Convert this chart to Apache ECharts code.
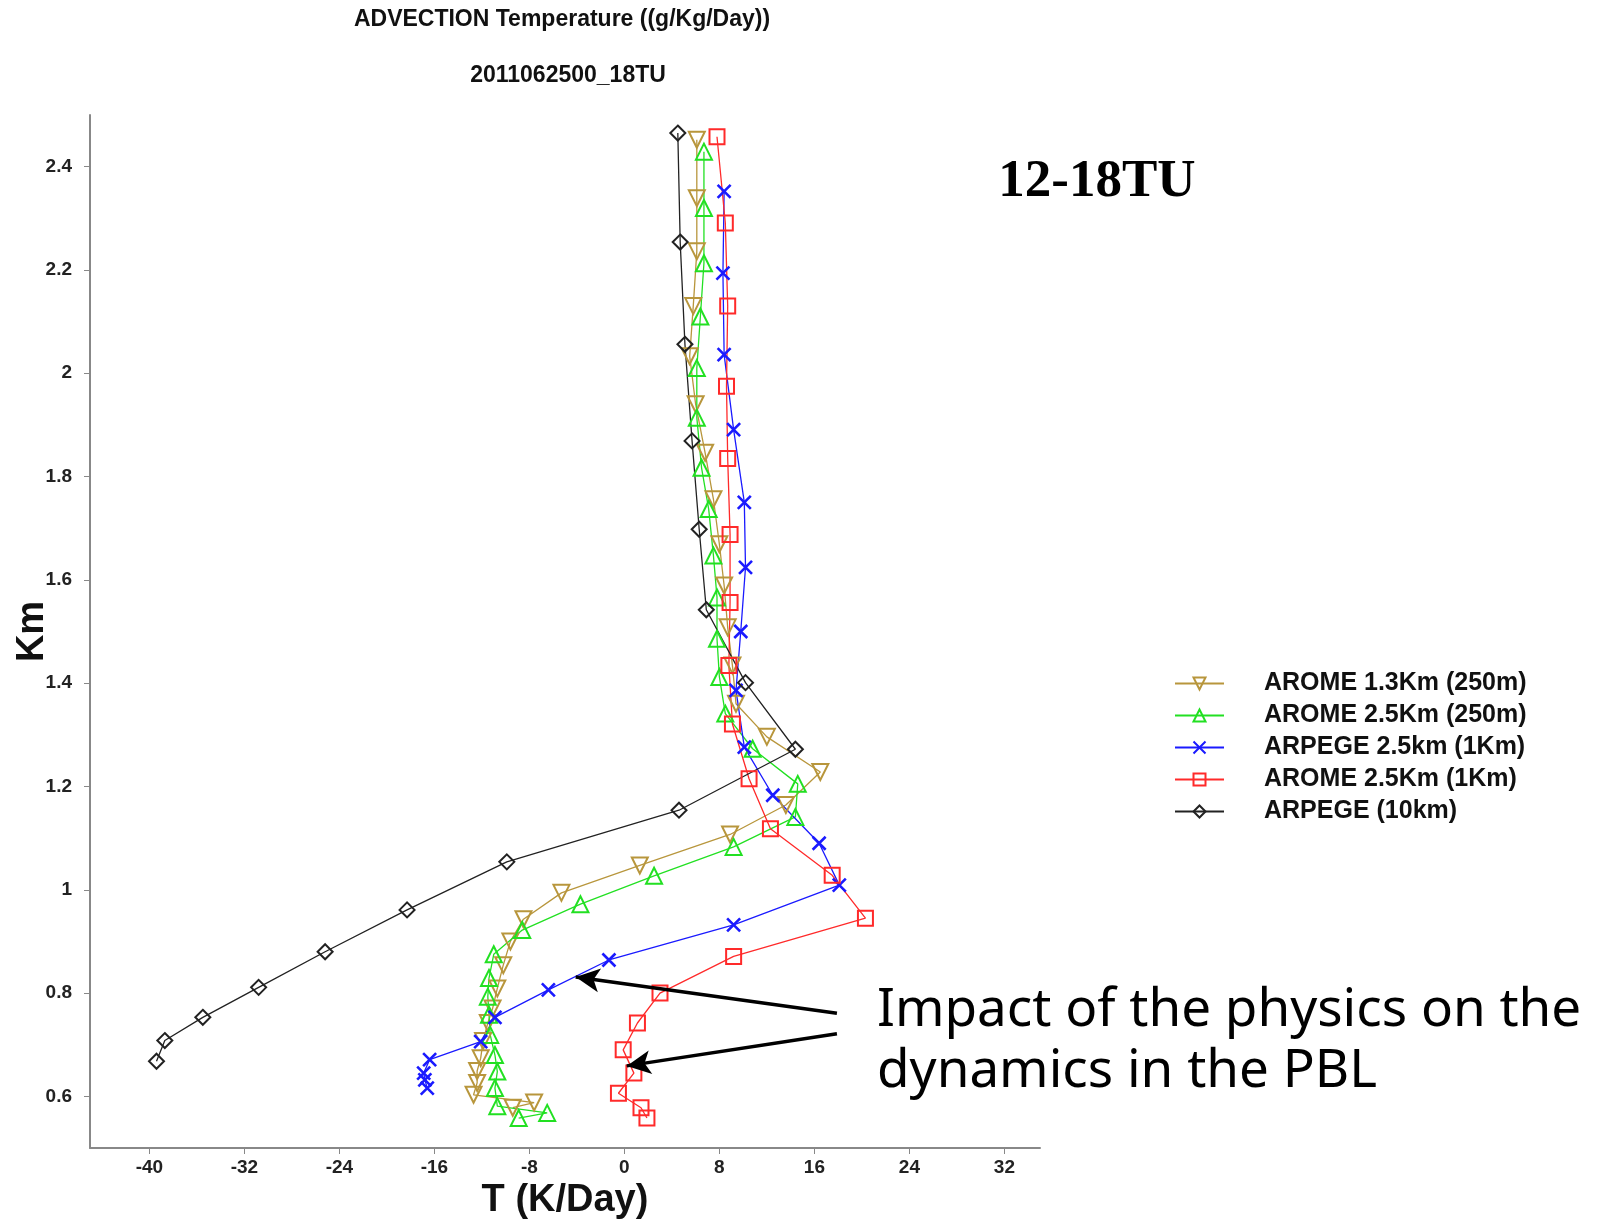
<!DOCTYPE html>
<html>
<head>
<meta charset="utf-8">
<title>ADVECTION Temperature</title>
<script src="https://cdn.jsdelivr.net/npm/echarts@6.0.0/dist/echarts.min.js"></script>
<style>
  html, body { margin: 0; padding: 0; background: #fff; }
  #chart { width: 1603px; height: 1221px; }
</style>
</head>
<body>
<div id="chart"></div>
<script>
// tick labels
var xTicks = [-40, -32, -24, -16, -8, 0, 8, 16, 24, 32];
var yTicks = [0.6, 0.8, 1.0, 1.2, 1.4, 1.6, 1.8, 2.0, 2.2, 2.4];

var seriesNames = ['AROME 1.3Km (250m)', 'AROME 2.5Km (250m)', 'ARPEGE 2.5km (1Km)', 'AROME 2.5Km (1Km)', 'ARPEGE (10km)'];

// AROME 1.3Km (250m)
var arome13Km = [2.452, 2.339, 2.236, 2.130, 2.033, 1.940, 1.846, 1.756, 1.669, 1.589, 1.508, 1.434, 1.360, 1.296, 1.228, 1.164, 1.107, 1.047, 0.994, 0.943, 0.900, 0.854, 0.809, 0.770, 0.742, 0.707, 0.674, 0.649, 0.626, 0.603, 0.588, 0.578];
var arome13T = [6.1, 6.1, 6.1, 5.8, 5.5, 6.0, 6.8, 7.5, 8.0, 8.4, 8.7, 9.1, 9.4, 12.0, 16.5, 13.6, 8.9, 1.3, -5.3, -8.5, -9.6, -10.2, -10.7, -11.1, -11.5, -11.9, -12.1, -12.4, -12.4, -12.7, -7.6, -9.4];

// AROME 2.5Km (250m)
var arome25Km = [2.429, 2.320, 2.213, 2.110, 2.010, 1.914, 1.817, 1.737, 1.647, 1.566, 1.486, 1.412, 1.341, 1.273, 1.205, 1.141, 1.083, 1.027, 0.972, 0.922, 0.875, 0.829, 0.793, 0.758, 0.719, 0.680, 0.648, 0.616, 0.581, 0.568, 0.558];
var arome25T = [6.7, 6.7, 6.7, 6.4, 6.1, 6.1, 6.5, 7.1, 7.5, 7.8, 7.8, 8.0, 8.5, 10.8, 14.6, 14.4, 9.2, 2.5, -3.7, -8.6, -11.0, -11.4, -11.5, -11.4, -11.3, -10.9, -10.7, -10.9, -10.7, -6.5, -8.9];

// ARPEGE 2.5km (1Km)
var arpege25Km = [2.352, 2.194, 2.036, 1.891, 1.750, 1.624, 1.500, 1.386, 1.276, 1.183, 1.090, 1.009, 0.932, 0.864, 0.806, 0.753, 0.706, 0.671, 0.645, 0.632, 0.616];
var arpege25T = [8.4, 8.3, 8.4, 9.2, 10.1, 10.2, 9.8, 9.4, 10.1, 12.5, 16.4, 18.1, 9.2, -1.3, -6.4, -10.9, -12.1, -16.4, -16.9, -16.8, -16.6];

// AROME 2.5Km (1Km)
var arome1kmKm = [2.458, 2.291, 2.130, 1.975, 1.835, 1.688, 1.556, 1.434, 1.321, 1.215, 1.118, 1.028, 0.945, 0.871, 0.800, 0.742, 0.690, 0.645, 0.606, 0.578, 0.558];
var arome1kmT = [7.8, 8.5, 8.7, 8.6, 8.7, 8.9, 8.9, 8.8, 9.1, 10.5, 12.3, 17.5, 20.3, 9.2, 3.0, 1.1, -0.1, 0.8, -0.5, 1.4, 1.9];

// ARPEGE (10km)
var arpege10Km = [2.465, 2.254, 2.056, 1.869, 1.698, 1.542, 1.401, 1.272, 1.154, 1.054, 0.961, 0.880, 0.811, 0.753, 0.708, 0.668];
var arpege10T = [4.5, 4.7, 5.1, 5.7, 6.3, 6.9, 10.2, 14.4, 4.6, -9.9, -18.3, -25.2, -30.8, -35.5, -38.7, -39.4];

// arrows of the annotation: [tail, head] in data units (T, Km)
var arrowBlue = [[17.9, 0.761], [-4.1, 0.831]];
var arrowRed = [[17.9, 0.721], [0.2, 0.659]];

var FONT = '"Liberation Sans", Arial, sans-serif';

function pairs(t, km) {
  var out = [];
  for (var i = 0; i < t.length; i++) {
    out.push([t[i], km[i]]);
  }
  return out;
}

function profile(name, t, km, color, symbol, size, rotate, border) {
  return {
    name: name,
    type: 'line',
    data: pairs(t, km),
    symbol: symbol,
    symbolSize: size,
    symbolRotate: rotate || 0,
    showAllSymbol: true,
    lineStyle: { color: color, width: 1.3 },
    itemStyle: { color: 'rgba(255,255,255,0)', borderColor: color, borderWidth: border || 2 },
    z: 3
  };
}

var chart = echarts.init(document.getElementById('chart'));

chart.setOption({
  animation: false,
  backgroundColor: '#fff',
  grid: { left: 90, right: 563, top: 115, bottom: 73, containLabel: false, outerBoundsMode: 'none' },
  xAxis: {
    type: 'value',
    min: -45,
    max: 35,
    name: 'T (K/Day)',
    nameLocation: 'middle',
    nameGap: 30,
    nameTextStyle: { fontSize: 38, fontWeight: 'bold', fontFamily: FONT, color: '#111' },
    axisLine: { show: true, onZero: false, lineStyle: { color: '#888', width: 2 } },
    axisTick: { show: true, length: 6, customValues: xTicks, lineStyle: { color: '#888' } },
    axisLabel: { customValues: xTicks, margin: 10, fontSize: 19, fontWeight: 'bold', fontFamily: FONT, color: '#222' },
    splitLine: { show: false }
  },
  yAxis: {
    type: 'value',
    min: 0.5,
    max: 2.5,
    name: 'Km',
    nameLocation: 'middle',
    nameGap: 38,
    nameMoveOverlap: false,
    nameRotate: 90,
    nameTextStyle: { fontSize: 38, fontWeight: 'bold', fontFamily: FONT, color: '#111' },
    axisLine: { show: true, onZero: false, lineStyle: { color: '#888', width: 2 } },
    axisTick: { show: true, length: 6, customValues: yTicks, lineStyle: { color: '#888' } },
    axisLabel: {
      customValues: yTicks,
      margin: 18,
      fontSize: 19,
      fontWeight: 'bold',
      fontFamily: FONT,
      color: '#222',
      formatter: function (v) { return String(+v.toFixed(1)); }
    },
    splitLine: { show: false }
  },
  legend: {
    orient: 'vertical',
    left: 1169,
    top: 666,
    itemWidth: 49,
    itemHeight: 15,
    itemGap: 7,
    data: seriesNames,
    textStyle: { fontSize: 25, fontWeight: 'bold', fontFamily: FONT, color: '#111', padding: [0, 0, 0, 35], lineHeight: 25 }
  },
  graphic: [
    {
      type: 'text', x: 562, y: 20,
      style: { text: 'ADVECTION Temperature ((g/Kg/Day))', font: 'bold 23px ' + FONT, fill: '#111', align: 'center', verticalAlign: 'middle' }
    },
    {
      type: 'text', x: 568, y: 76,
      style: { text: '2011062500_18TU', font: 'bold 23px ' + FONT, fill: '#111', align: 'center', verticalAlign: 'middle' }
    },
    {
      type: 'text', x: 1097, y: 182,
      style: { text: '12-18TU', font: 'bold 53px "Liberation Serif", "Times New Roman", serif', fill: '#000', align: 'center', verticalAlign: 'middle' }
    },
    {
      type: 'text', x: 877, y: 1011,
      style: { text: 'Impact of the physics on the', font: '53px "Comic Sans MS", "Noto Sans", sans-serif', fill: '#000', align: 'left', verticalAlign: 'middle' }
    },
    {
      type: 'text', x: 877, y: 1072,
      style: { text: 'dynamics in the PBL', font: '53px "Comic Sans MS", "Noto Sans", sans-serif', fill: '#000', align: 'left', verticalAlign: 'middle' }
    }
  ],
  series: [
    profile(seriesNames[0], arome13T, arome13Km, '#b8963c', 'triangle', 16, 180),
    profile(seriesNames[1], arome25T, arome25Km, '#22e022', 'triangle', 16),
    profile(seriesNames[2], arpege25T, arpege25Km, '#1a1aff', 'path://M0,0L10,10M10,0L0,10', 13, 0, 2.6),
    profile(seriesNames[3], arome1kmT, arome1kmKm, '#ff2a2a', 'rect', 15),
    profile(seriesNames[4], arpege10T, arpege10Km, '#222222', 'diamond', 15),
    {
      // annotation arrows
      type: 'line',
      data: [],
      silent: true,
      markLine: {
        silent: true,
        symbol: ['none', 'arrow'],
        symbolSize: [18, 24],
        label: { show: false },
        lineStyle: { color: '#000', width: 3.5, type: 'solid' },
        data: [
          [{ coord: arrowBlue[0] }, { coord: arrowBlue[1] }],
          [{ coord: arrowRed[0] }, { coord: arrowRed[1] }]
        ]
      }
    }
  ]
});
</script>
</body>
</html>
